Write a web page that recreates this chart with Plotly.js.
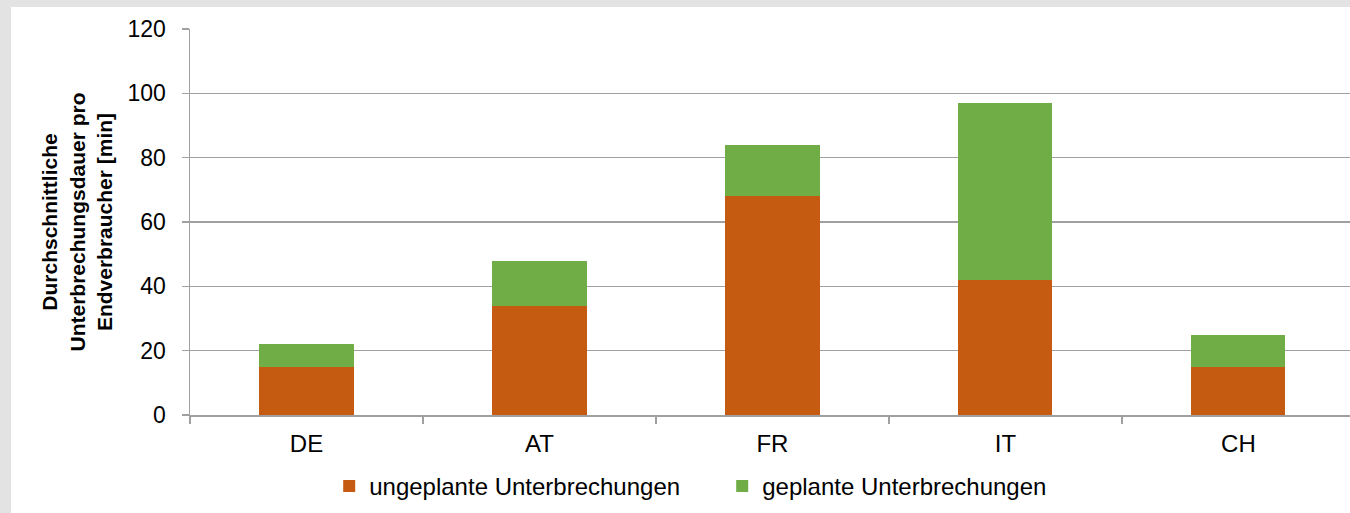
<!DOCTYPE html>
<html>
<head>
<meta charset="utf-8">
<script src="https://cdn.plot.ly/plotly-3.0.1.min.js"></script>
<style>
html,body{margin:0;padding:0;background:#e3e3e3;width:1350px;height:513px;overflow:hidden;}
#chart{position:absolute;left:11px;top:7px;width:1339px;height:506px;background:#fff;}
</style>
</head>
<body>
<div id="chart"></div>
<script>
const countries = ["DE", "AT", "FR", "IT", "CH"];
const ungeplant = [15, 34, 68, 42, 15];
const geplant = [7, 14, 16, 55, 10];
const yTicks = [0, 20, 40, 60, 80, 100, 120];
const seriesNames = ["ungeplante Unterbrechungen", "geplante Unterbrechungen"];
const yTitle = "Durchschnittliche<br>Unterbrechungsdauer pro<br>Endverbraucher [min]";

const font = "Liberation Sans, Arial, sans-serif";
const data = [
  {type: "bar", x: countries, y: ungeplant, name: seriesNames[0],
   marker: {color: "#c55a11"}},
  {type: "bar", x: countries, y: geplant, name: seriesNames[1],
   marker: {color: "#70ad47"}}
];
const layout = {
  barmode: "stack",
  bargap: 0.596,
  width: 1339, height: 506,
  margin: {l: 179, r: 0, t: 22, b: 98},
  paper_bgcolor: "#ffffff",
  plot_bgcolor: "#ffffff",
  font: {family: font, color: "#000", size: 22},
  showlegend: true,
  legend: {orientation: "h", x: 0.12, xanchor: "left", y: -0.185, yanchor: "middle",
    font: {family: font, size: 24, color: "#000"}, traceorder: "normal",
    entrywidth: 348, entrywidthmode: "pixels"},
  xaxis: {
    type: "category",
    range: [-0.5, 4.479],
    showline: true, linecolor: "#a0a0a0", linewidth: 1.5,
    ticks: "outside", tickson: "boundaries", ticklen: 7, tickcolor: "#a0a0a0", tickwidth: 1.5,
    ticklabelstandoff: 7,
    showgrid: false,
    tickfont: {family: font, size: 24, color: "#000"}
  },
  yaxis: {
    range: [0, 120],
    tickvals: yTicks,
    showline: true, linecolor: "#a0a0a0", linewidth: 1.5,
    ticks: "outside", ticklen: 7, tickcolor: "#a0a0a0", tickwidth: 1.5,
    showgrid: true, gridcolor: "#a0a0a0", gridwidth: 1.5,
    zeroline: false,
    ticklabelstandoff: 11,
    tickfont: {family: font, size: 23, color: "#000"},
    title: {text: "<b>" + yTitle + "</b>", standoff: 9,
      font: {family: font, size: 21, color: "#000"}}
  }
};
Plotly.newPlot("chart", data, layout, {staticPlot: true, displayModeBar: false});
</script>
</body>
</html>
